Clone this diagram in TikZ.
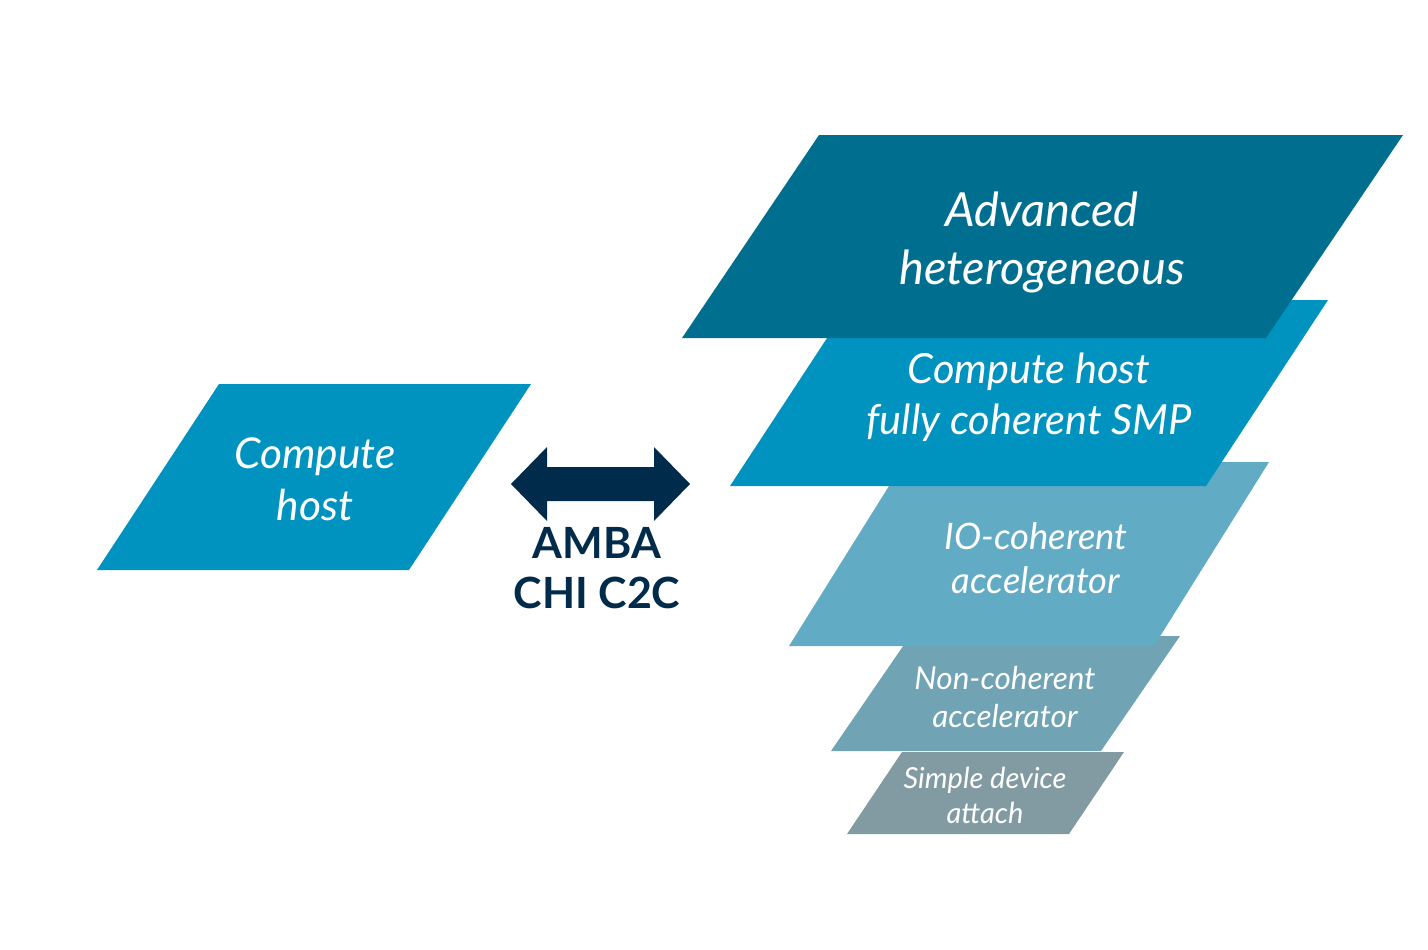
\documentclass[tikz,border=0pt]{standalone}
\usepackage{fontspec}
\setmainfont{Lato}
\definecolor{cDark}{HTML}{006E8F}
\definecolor{cMid}{HTML}{0093BF}
\definecolor{cIO}{HTML}{62ABC4}
\definecolor{cNon}{HTML}{70A3B3}
\definecolor{cSim}{HTML}{829BA2}
\definecolor{cNavy}{HTML}{002B4A}
\tikzset{
  lbl/.style={text=white, align=center, inner sep=0pt, font=\itshape},
}
\begin{document}
\begin{tikzpicture}[x=1pt,y=-1pt]
\useasboundingbox[fill=white] (0,0) rectangle (1428,950);
% stack, drawn bottom first
\fill[cSim] (847,834) -- (902,752) -- (1124,752) -- (1069,834) -- cycle;
\fill[cNon] (831,751) -- (910,636) -- (1180,636) -- (1101,751) -- cycle;
\fill[cIO]  (789,646) -- (904,462) -- (1269,462) -- (1154,646) -- cycle;
\fill[cMid] (730,486) -- (852,300) -- (1328,300) -- (1206,486) -- cycle;
\fill[cDark] (682,338) -- (819,135) -- (1403,135) -- (1266,338) -- cycle;
% left host
\fill[cMid] (97,570) -- (219,384) -- (531,384) -- (409,570) -- cycle;
% labels
\node[lbl, font=\itshape\fontsize{42.5}{52}\selectfont] (host) at (315,479) {Compute\\host};
\node[lbl, font=\itshape\fontsize{47}{58}\selectfont] (adv) at (1042,242) {Advanced\\heterogeneous};
\node[lbl, font=\itshape\fontsize{41.5}{51}\selectfont] (smp) at (1029,397) {Compute host\\fully coherent SMP};
\node[lbl, font=\itshape\fontsize{36.5}{44}\selectfont] (io) at (1036,558) {IO-coherent\\accelerator};
\node[lbl, font=\itshape\fontsize{31.5}{38}\selectfont] (non) at (1005,697) {Non-coherent\\accelerator};
\node[lbl, font=\itshape\fontsize{29}{35}\selectfont] (sim) at (985,795) {Simple device\\attach};
\node[text=cNavy, align=center, inner sep=0pt, font=\bfseries\fontsize{43}{50}\selectfont] (amba) at (597,568) {AMBA\\CHI C2C};
% double arrow
\coordinate (aL) at (511,484);
\coordinate (aR) at (690,484);
\fill[cNavy] (aL) -- ([xshift=36,yshift=-37]aL) -- ([xshift=36,yshift=-17]aL)
  -- ([xshift=-36,yshift=-17]aR) -- ([xshift=-36,yshift=-37]aR) -- (aR)
  -- ([xshift=-36,yshift=37]aR) -- ([xshift=-36,yshift=17]aR)
  -- ([xshift=36,yshift=17]aL) -- ([xshift=36,yshift=37]aL) -- cycle;
\end{tikzpicture}
\end{document}
